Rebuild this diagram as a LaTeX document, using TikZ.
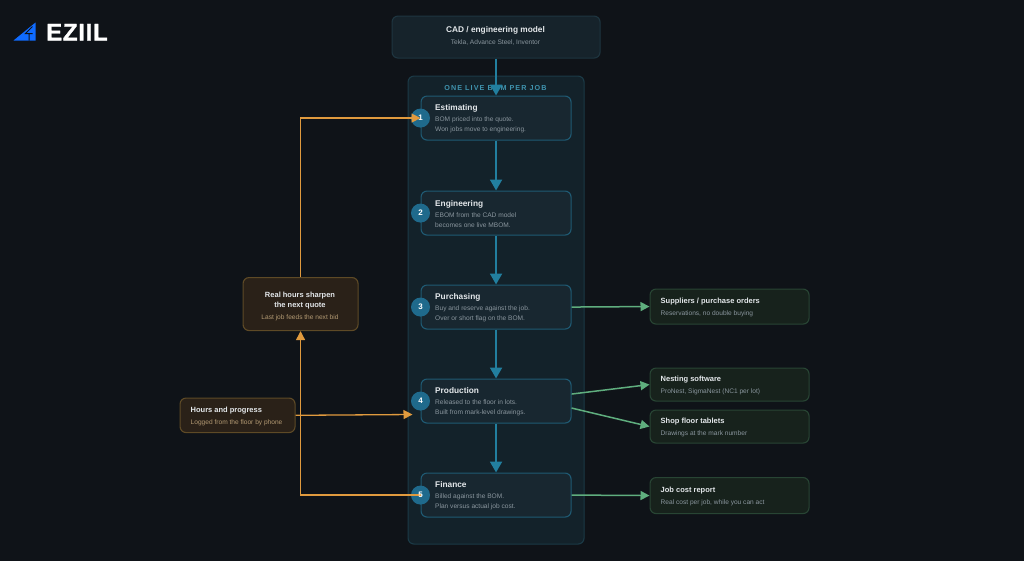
\documentclass[tikz,border=0pt]{standalone}
\usepackage{fontspec}
\setmainfont{Liberation Sans}
\usetikzlibrary{arrows.meta}
\definecolor{pagebg}{HTML}{0F1318}
\definecolor{bandfill}{HTML}{13222A}
\definecolor{bandline}{HTML}{1B3A46}
\definecolor{stepfill}{HTML}{182730}
\definecolor{stepline}{HTML}{1F5A73}
\definecolor{topfill}{HTML}{16232B}
\definecolor{topline}{HTML}{1E3540}
\definecolor{tealline}{HTML}{227F9F}
\definecolor{numfill}{HTML}{1F6A8C}
\definecolor{bandtext}{HTML}{3F93AE}
\definecolor{heading}{HTML}{E4E8EB}
\definecolor{subtext}{HTML}{8A969E}
\definecolor{orangeline}{HTML}{E09A3E}
\definecolor{orangefill}{HTML}{2A2118}
\definecolor{orangeedge}{HTML}{5E4A26}
\definecolor{orangetext}{HTML}{B39A73}
\definecolor{greenline}{HTML}{5FAE7E}
\definecolor{greenfill}{HTML}{17221C}
\definecolor{greenedge}{HTML}{284534}
\definecolor{logoblue}{HTML}{0F6BFF}
\newcommand{\headtext}[1]{{\fontsize{8.3}{11}\selectfont\bfseries\color{heading}#1}}
\newcommand{\sidehead}[1]{{\fontsize{7.5}{11}\selectfont\bfseries\color{heading}#1}}
\newcommand{\subfont}{\fontsize{6.6}{9.6}\selectfont}
\tikzset{
	box/.style={draw, rounded corners=6, line width=1.1, inner sep=0, anchor=north west},
	stepbox/.style={box, fill=stepfill, draw=stepline, minimum width=150, minimum height=44},
	toptext/.style={anchor=west, align=left, inner sep=0, text=subtext, font=\subfont},
	numdot/.style={circle, fill=numfill, minimum size=19, inner sep=0},
	numtext/.style={text=white, font=\fontsize{8}{9}\selectfont\bfseries, inner sep=0},
	tealarrow/.style={draw=tealline, line width=2, -{Triangle[length=11, width=12]}},
	orangearrow/.style={draw=orangeline, line width=1.3, -{Triangle[length=9, width=9]}},
	greenarrow/.style={draw=greenline, line width=1.5, -{Triangle[length=9, width=9]}},
	orangebox/.style={box, fill=orangefill, draw=orangeedge},
	greenbox/.style={box, fill=greenfill, draw=greenedge, minimum width=159},
}
\begin{document}
\begin{tikzpicture}[x=1pt, y=-1pt]
	\useasboundingbox (0.5,0.5) rectangle (1024.5,560.5);
	\fill[pagebg] (-3,-3) rectangle (1027,563);

	% logo
	\fill[logoblue] (14,41) -- (36,23) -- (36,41) -- cycle;
	\draw[pagebg, line width=1] (33,27) -- (26,34) -- (33,34) (29.5,34) -- (29.5,41);
	\node[anchor=base west, inner sep=0, text=white, font=\fontsize{24}{24}\selectfont\bfseries] (logotext) at (46.5,41) {\addfontfeature{LetterSpace=3, FakeBold=1.2}EZIIL};

	% middle column
	\node[box, fill=bandfill, draw=bandline, minimum width=176, minimum height=468] (band) at (408,76) {};
	\node[text=bandtext, inner sep=0, font=\fontsize{7.2}{9}\selectfont\bfseries, anchor=base] (bandlabel) at (496,90.5) {\addfontfeature{LetterSpace=15}ONE LIVE BOM PER JOB};
	\node[box, fill=topfill, draw=topline, minimum width=208, minimum height=42] (cad) at (392,16) {};
	\node[anchor=base, inner sep=0] (cadhead) at (496,33) {\headtext{CAD / engineering model}};
	\node[anchor=base, inner sep=0, text=subtext, font=\subfont] (cadsub) at (496,45) {Tekla, Advance Steel, Inventor};

	\node[stepbox] (estimating) at (421,96) {};
	\node[stepbox] (engineering) at (421,191) {};
	\node[stepbox] (purchasing) at (421,285) {};
	\node[stepbox] (production) at (421,379) {};
	\node[stepbox] (finance) at (421,473) {};

	\foreach \stepname/\one/\two/\three in {
		estimating/Estimating/BOM priced into the quote./Won jobs move to engineering.,
		engineering/Engineering/EBOM from the CAD model/becomes one live MBOM.,
		purchasing/Purchasing/Buy and reserve against the job./Over or short flag on the BOM.,
		production/Production/Released to the floor in lots./Built from mark-level drawings.,
		finance/Finance/Billed against the BOM./Plan versus actual job cost.}
	{
		\node[toptext] (\stepname-text) at ([xshift=14.5, yshift=-0.8]\stepname.west) {\headtext{\one}\\[1.5pt]\two\\\three};
		\node[numdot] (\stepname-dot) at (\stepname.west) {};
	}

	% side boxes
	\node[orangebox, minimum width=115, minimum height=53] (sharpen) at (243,277.5) {};
	\node[anchor=base, inner sep=0] (sharpenhead) at (300.5,298) {\sidehead{Real hours sharpen}};
	\node[anchor=base, inner sep=0] (sharpenhead2) at (300.5,308) {\sidehead{the next quote}};
	\node[anchor=base, inner sep=0, text=orangetext, font=\subfont] (sharpensub) at (300.5,320) {Last job feeds the next bid};
	\node[orangebox, minimum width=115, minimum height=34.5] (hours) at (180,398) {};
	\node[toptext, text=orangetext] (hourstext) at ([xshift=11, yshift=-1]hours.west) {\sidehead{Hours and progress}\\[2pt]Logged from the floor by phone};

	\node[greenbox, minimum height=35] (suppliers) at (650,289) {};
	\node[toptext] (supplierstext) at ([xshift=11, yshift=-1]suppliers.west) {\sidehead{Suppliers / purchase orders}\\[2pt]Reservations, no double buying};
	\node[greenbox, minimum height=33] (nesting) at (650,368) {};
	\node[toptext] (nestingtext) at ([xshift=11, yshift=-1]nesting.west) {\sidehead{Nesting software}\\[2pt]ProNest, SigmaNest (NC1 per lot)};
	\node[greenbox, minimum height=33] (tablets) at (650,410) {};
	\node[toptext] (tabletstext) at ([xshift=11, yshift=-1]tablets.west) {\sidehead{Shop floor tablets}\\[2pt]Drawings at the mark number};
	\node[greenbox, minimum height=36] (report) at (650,477.5) {};
	\node[toptext] (reporttext) at ([xshift=11, yshift=-1]report.west) {\sidehead{Job cost report}\\[2pt]Real cost per job, while you can act};

	% connectors
	\draw[tealarrow] (cad.south) -- (estimating.north);
	\draw[tealarrow] (estimating) -- (engineering);
	\draw[tealarrow] (engineering) -- (purchasing);
	\draw[tealarrow] (purchasing) -- (production);
	\draw[tealarrow] (production) -- (finance);

	\draw[orangearrow] (sharpen.north) |- (estimating-dot.center);
	\draw[orangearrow] (finance-dot.center) -| (sharpen.south);
	\coordinate (hoursend) at (413,415);
	\draw[orangearrow] (hours.east) -- (hoursend);

	\draw[greenarrow] (purchasing.east) -- (suppliers.west);
	\draw[greenarrow] ([yshift=7]production.east) -- (nesting.west);
	\draw[greenarrow] ([yshift=-7]production.east) -- (tablets.west);
	\draw[greenarrow] (finance.east) -- (report.west);

	\foreach \stepname/\num in {estimating/1, engineering/2, purchasing/3, production/4, finance/5}
		\node[numtext] (\stepname-num) at (\stepname.west) {\num};
\end{tikzpicture}
\end{document}
